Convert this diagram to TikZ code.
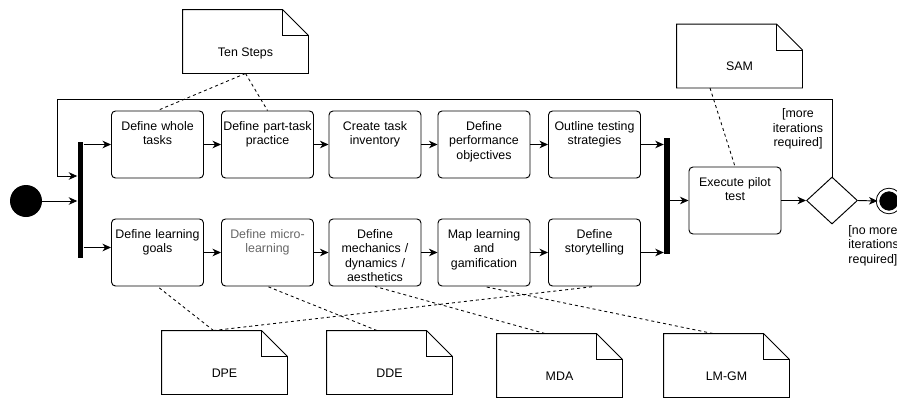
\documentclass[tikz,border=0pt]{standalone}
\usepackage{fontspec}
\setmainfont{Liberation Sans}
\usetikzlibrary{arrows.meta,shapes.geometric}

% folded-corner outline drawn round a note node
\newcommand\dogear[1]{%
  \draw (#1.south west) -- (#1.north west) -- ([xshift=-26pt]#1.north east)
        -- ([yshift=-26pt]#1.north east) -- (#1.south east) -- cycle;
  \draw ([xshift=-26pt]#1.north east) -- ([xshift=-26pt,yshift=-26pt]#1.north east)
        -- ([yshift=-26pt]#1.north east);}

\begin{document}
\begin{tikzpicture}[x=1pt,y=-1pt,line width=0.95pt,
  font=\fontsize{12.4}{14.4}\selectfont,
  act/.style={draw, rounded corners=4, inner sep=0, text width=92, align=center,
              text height=19.5, text depth=47.5},
  bar/.style={fill=black, inner sep=0, minimum width=5.5, minimum height=116},
  note/.style={inner sep=0, minimum width=125, minimum height=63,
               text height=31, text depth=1.4},
  arr/.style={-{Stealth[length=8.5pt,width=7.5pt,inset=2.5pt]}},
  link/.style={dash pattern=on 3pt off 3pt, line width=0.85pt},
  guard/.style={inner sep=0, align=center}]
\useasboundingbox (0,0) rectangle (897,397);

% initial node and fork
\node[circle, fill=black, minimum size=32, inner sep=0] (start) at (26,201) {};
\node[bar] (fork) at (80.5,200) {};

% upper branch
\node[act] (t1) at (157.5,144.5) {Define whole\\tasks};
\node[act] (t2) at (267.5,144.5) {Define part-task\\practice};
\node[act] (t3) at (375,144.5) {Create task\\inventory};
\node[act] (t4) at (484,144.5) {Define\\performance\\objectives};
\node[act] (t5) at (594.5,144.5) {Outline testing\\strategies};

% lower branch
\node[act] (b1) at (157.5,252.5) {Define learning\\goals};
\node[act, text=black!60] (b2) at (267.5,252.5) {Define micro-\\learning};
\node[act] (b3) at (375,252.5) {Define\\mechanics /\\dynamics /\\aesthetics};
\node[act] (b4) at (484,252.5) {Map learning\\and\\gamification};
\node[act] (b5) at (594.5,252.5) {Define\\storytelling};

% join, pilot, decision, final node
\node[bar] (join) at (667,196) {};
\node[act] (exec) at (735,200.5) {Execute pilot\\test};
\node[diamond, draw, minimum width=51, minimum height=47, inner sep=0] (dec) at (832,200.5) {};
\node[circle, draw, fill=black, minimum size=22, inner sep=0,
      double=white, double distance=2.5pt] (end) at (889,201) {};

% guards
\node[guard] (more) at (798,129) {[more\\iterations\\required]};
\node[guard, anchor=north west, align=left] (nomore) at (848,225) {[no more\\iterations\\required]};

% notes
\node[note] (ts) at (245.5,41.5) {Ten Steps};
\node[note] (sam) at (739.5,56) {SAM};
\node[note] (dpe) at (224.5,362.5) {DPE};
\node[note] (dde) at (389.5,362.5) {DDE};
\node[note] (mda) at (559.5,365.5) {MDA};
\node[note] (lmgm) at (726.5,365.5) {LM-GM};
\foreach \n in {ts,sam,dpe,dde,mda,lmgm} {\dogear{\n}}

% control flow
\draw[arr] (start) -- (start -| fork.west);
\draw[arr] (fork.east |- t1.west) -- (t1.west);
\coordinate (b1in) at ([yshift=5pt]b1.west);
\draw[arr] (fork.east |- b1in) -- (b1in);
\draw[arr] (t1.east) -- (t2.west);
\draw[arr] (t2.east) -- (t3.west);
\draw[arr] (t3.east) -- (t4.west);
\draw[arr] (t4.east) -- (t5.west);
\draw[arr] (b1.east) -- (b2.west);
\draw[arr] (b2.east) -- (b3.west);
\draw[arr] (b3.east) -- (b4.west);
\draw[arr] (b4.east) -- (b5.west);
\draw[arr] (t5.east) -- (t5.east -| join.west);
\draw[arr] (b5.east) -- (b5.east -| join.west);
\draw[arr] (join.east |- exec.west) -- (exec.west);
\draw[arr] (exec.east) -- (dec.west);
\draw[arr] (dec.east) -- (end.west);

% loop back to the fork
\coordinate (back) at (57,99);
\coordinate (forkin) at ([yshift=24pt]fork.west);
\draw[arr] (dec.north) |- (back) |- (forkin);

% note links
\draw[link] (ts.south) -- (t1.north);
\draw[link] (ts.south) -- (t2.north);
\draw[link] ([xshift=-29.5pt]sam.south) -- (exec.north);
\draw[link] ([xshift=-11pt]dpe.north) -- (b1.south);
\draw[link] ([xshift=-11pt]dpe.north) -- (b5.south);
\draw[link] ([xshift=-12.5pt]dde.north) -- (b2.south);
\draw[link] ([xshift=-14.5pt]mda.north) -- (b3.south);
\draw[link] ([xshift=-13.5pt]lmgm.north) -- (b4.south);
\end{tikzpicture}
\end{document}
